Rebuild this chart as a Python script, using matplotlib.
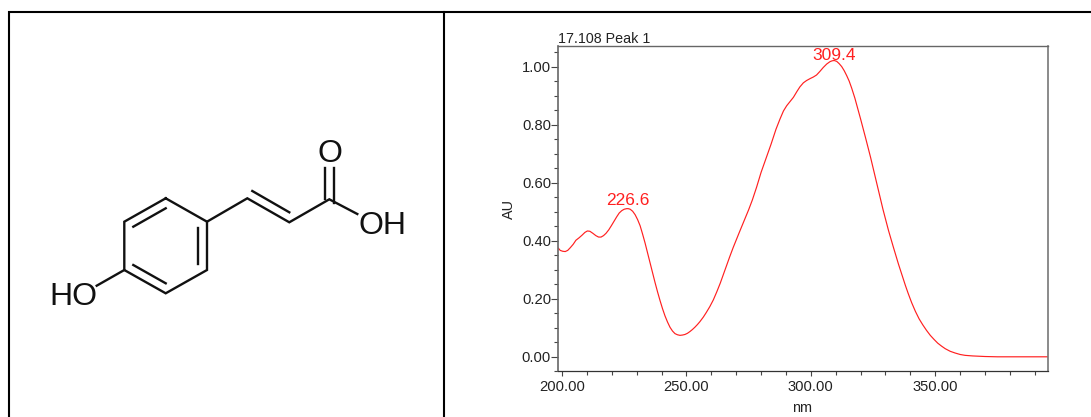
import matplotlib
matplotlib.use('Agg')
import matplotlib.pyplot as plt
from matplotlib.ticker import MultipleLocator, FormatStrFormatter

plt.rcParams['font.family'] = ['Liberation Sans', 'DejaVu Sans']

# spectrum
wavelength = [198.5, 199.3, 200.3, 201.3, 202.3, 203.3, 204.5, 205.6, 206.8, 208.0, 209.2, 210.2,
              211.2, 212.4, 213.6, 214.7, 215.7, 216.7, 217.7, 218.8, 219.9, 221.0, 222.0, 223.0,
              224.0, 225.0, 226.0, 226.6, 227.4, 228.4, 229.4, 230.4, 231.4, 232.4, 233.4, 234.4,
              235.4, 236.4, 237.4, 238.4, 239.4, 240.4, 241.4, 242.4, 243.4, 244.4, 245.4, 246.4,
              247.4, 248.4, 249.4, 250.4, 251.4, 252.4, 253.4, 254.4, 255.4, 256.8, 258.0, 259.4,
              260.8, 262.2, 263.6, 264.8, 266.0, 267.4, 268.8, 270.0, 271.2, 272.4, 273.5, 275.0,
              276.5, 278.2, 280.0, 282.0, 284.0, 286.0, 287.6, 289.0, 290.3, 291.6, 293.0, 294.4,
              295.6, 297.0, 298.3, 299.8, 301.0, 302.3, 303.6, 305.0, 306.4, 307.7, 308.6, 309.4,
              310.4, 311.4, 312.4, 313.4, 314.4, 315.4, 316.4, 317.7, 319.0, 320.0, 321.0, 322.0,
              323.0, 324.0, 325.0, 326.0, 327.1, 328.0, 329.0, 330.2, 331.2, 332.2, 333.1, 334.2,
              335.2, 335.8, 337.0, 338.0, 339.1, 340.5, 342.0, 343.5, 345.0, 346.5, 348.0, 349.5,
              351.0, 352.5, 354.0, 356.0, 358.0, 360.0, 362.0, 365.0, 370.0, 375.0, 395.2]
absorbance = [0.375, 0.367, 0.364, 0.363, 0.367, 0.376, 0.388, 0.402, 0.410, 0.419, 0.429, 0.434,
              0.433, 0.426, 0.418, 0.413, 0.413, 0.418, 0.426, 0.438, 0.453, 0.469, 0.483, 0.496,
              0.504, 0.509, 0.511, 0.511, 0.509, 0.502, 0.490, 0.473, 0.452, 0.423, 0.392, 0.358,
              0.323, 0.289, 0.256, 0.224, 0.194, 0.166, 0.141, 0.120, 0.102, 0.089, 0.080, 0.076,
              0.074, 0.075, 0.077, 0.081, 0.087, 0.094, 0.102, 0.111, 0.121, 0.137, 0.153, 0.173,
              0.196, 0.224, 0.254, 0.283, 0.312, 0.345, 0.377, 0.403, 0.428, 0.453, 0.476, 0.507,
              0.541, 0.585, 0.636, 0.684, 0.733, 0.785, 0.820, 0.848, 0.866, 0.880, 0.895, 0.915,
              0.931, 0.945, 0.953, 0.960, 0.965, 0.972, 0.984, 0.998, 1.010, 1.018, 1.021, 1.022,
              1.019, 1.011, 1.001, 0.987, 0.970, 0.951, 0.927, 0.892, 0.852, 0.820, 0.788, 0.755,
              0.722, 0.688, 0.652, 0.615, 0.575, 0.543, 0.508, 0.468, 0.436, 0.406, 0.380, 0.348,
              0.320, 0.304, 0.272, 0.246, 0.219, 0.187, 0.157, 0.131, 0.110, 0.091, 0.074, 0.060,
              0.047, 0.037, 0.028, 0.019, 0.013, 0.008, 0.005, 0.003, 0.001, 0.000, 0.000]
peak_nm = [226.6, 309.4]
peak_au = [0.511, 1.022]
peak_gap = [3.7, 0]

# structure drawing, in image pixels
ring = [(165.7, 198.3), (207, 221.7), (207, 270), (165.7, 293.3), (124.3, 270), (124.3, 221.7), (165.7, 198.3)]
bonds = [
    [(207, 221.7), (247.3, 198.3), (289.3, 222.3), (329.3, 199.3), (357.3, 214)],
    [(252.3, 191), (289.3, 212.3)],
    [(325, 199), (325, 168)],
    [(334.3, 203), (334.3, 168)],
    [(133.3, 226.7), (165.7, 208.3)],
    [(197.7, 227.7), (197.7, 264.3)],
    [(133.3, 265), (165.7, 283.3)],
    [(124.3, 270), (96.7, 285.7)],
]
atoms = [('O', 330, 154.5), ('OH', 383, 226), ('HO', 73, 297)]

# table rules, in image pixels
rules = [
    [(9, 417), (9, 12), (1091, 12)],
    [(444, 12), (444, 417)],
]

W, H = 1091, 417
fig = plt.figure(figsize=(W / 100, H / 100), dpi=100)

bg = fig.add_axes([0, 0, 1, 1])
bg.set_xlim(0, W)
bg.set_ylim(H, 0)
bg.axis('off')
for r in rules:
    bg.plot([p[0] for p in r], [p[1] for p in r], color='black', lw=1.5, solid_joinstyle='miter')
bg.plot([p[0] for p in ring], [p[1] for p in ring], color='#111111', lw=1.7, solid_joinstyle='miter')
for b in bonds:
    bg.plot([p[0] for p in b], [p[1] for p in b], color='#111111', lw=1.7, solid_joinstyle='miter')
for name, x, y in atoms:
    bg.text(x, y, name, fontsize=23, color='#111111', ha='center', va='center')

# chart
left, right, top, bottom = 558, 1048, 46, 371.3
ax = fig.add_axes([left / W, (H - bottom) / H, (right - left) / W, (bottom - top) / H])
ax.plot(wavelength, absorbance, color='#ff2020', lw=0.85)
ax.set_xlim(198.4, 395.3)
ax.set_ylim(-0.05, 1.072)

ax.xaxis.set_major_locator(MultipleLocator(50))
ax.xaxis.set_minor_locator(MultipleLocator(10))
ax.yaxis.set_major_locator(MultipleLocator(0.2))
ax.yaxis.set_minor_locator(MultipleLocator(0.05))
ax.xaxis.set_major_formatter(FormatStrFormatter('%.2f'))
ax.yaxis.set_major_formatter(FormatStrFormatter('%.2f'))

ax.tick_params(axis='x', which='major', length=3.6, width=0.8, color='#444444', labelsize=10.6, labelcolor='#222222', pad=3)
ax.tick_params(axis='x', which='minor', length=3, width=0.8, color='#444444')
ax.tick_params(axis='y', which='major', length=5, width=0.8, color='#444444', labelsize=10.6, labelcolor='#222222', pad=0)
ax.tick_params(axis='y', which='minor', length=3.2, width=0.8, color='#444444')

for side, c, w in [('left', '#666666', 1.2), ('right', '#777777', 1.2), ('top', '#666666', 1.0), ('bottom', '#333333', 0.9)]:
    ax.spines[side].set_color(c)
    ax.spines[side].set_linewidth(w)

ax.set_title('17.108 Peak 1', loc='left', fontsize=10.3, color='#222222', pad=2.4)
ax.set_xlabel('nm', fontsize=10.4, color='#222222', va='center')
ax.xaxis.set_label_coords(0.499, -0.112)
ax.set_ylabel('AU', fontsize=10.4, color='#222222', va='center')
ax.yaxis.set_label_coords(-0.1, 0.5)

for nm, au, gap in zip(peak_nm, peak_au, peak_gap):
    ax.annotate('%.1f' % nm, (nm, au), xytext=(0, gap * 0.72), textcoords='offset points',
                ha='center', va='baseline', fontsize=12.5, color='#ff2020')

fig.savefig('out.png', dpi=100)
